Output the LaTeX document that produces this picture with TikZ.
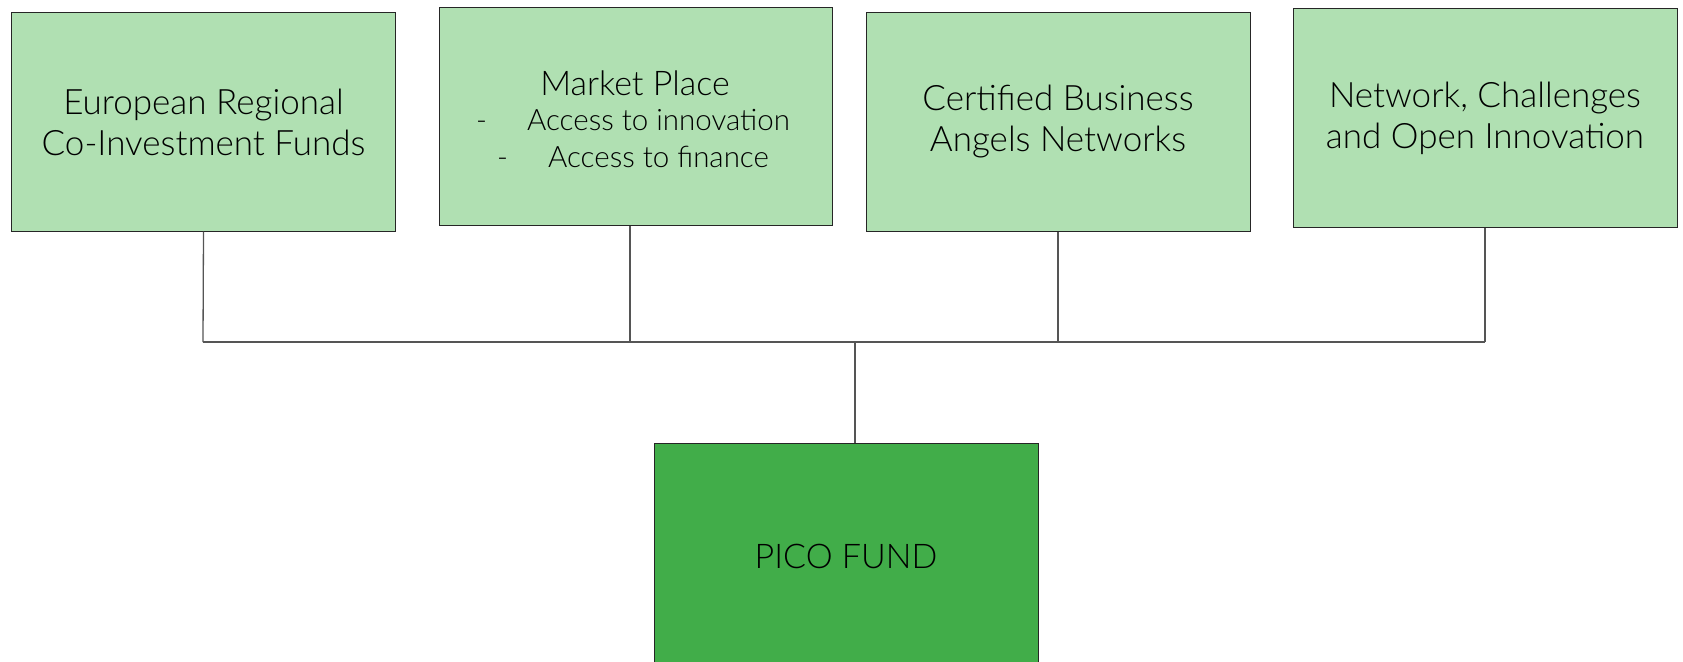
\documentclass[tikz,border=0pt]{standalone}
\usepackage{fontspec}
\setmainfont{Lato Light}
\definecolor{lightgreen}{RGB}{176,224,178}
\definecolor{fundgreen}{RGB}{65,173,73}
\definecolor{linegray}{RGB}{85,85,85}
\tikzset{
  box/.style={rectangle, draw=black!85, line width=1pt, fill=lightgreen, minimum width=384pt, minimum height=218pt, inner sep=0pt, align=center, font=\fontsize{35}{41}\selectfont},
  link/.style={draw=linegray, line width=1.3pt}
}
\begin{document}
\begin{tikzpicture}[x=1pt,y=-1pt]
\useasboundingbox (0,0) rectangle (1683,661);
\node[box] (box1) at (203.5,122){European Regional\\Co-Investment Funds};
\node[box, minimum width=393pt] (box2) at (635.5,116.5){};
\node[font=\fontsize{34}{41}\selectfont] (mp) at (635,83){Market Place};
\node[anchor=west, font=\fontsize{29.5}{35}\selectfont, inner sep=0pt] (mp1) at (476,120){-\hspace{40pt}Access to innovation};
\node[anchor=west, font=\fontsize{29.5}{35}\selectfont, inner sep=0pt] (mp2) at (497,157){-\hspace{40pt}Access to finance};
\node[box] (box3) at (1058,122){Certified Business\\Angels Networks};
\node[box] (box4) at (1485,118){Network, Challenges\\and Open Innovation};
\node[box, fill=fundgreen, minimum height=226pt, font=\fontsize{34}{41}\selectfont] (fund) at (846,556){PICO FUND};
\coordinate (j1) at (203,342);
\coordinate (j2) at (630,342);
\coordinate (j3) at (1058,342);
\coordinate (j4) at (1485,342);
\coordinate (hub) at (855,342);
\draw[link](box1.south) -- (j1);
\draw[link](j2 |- box2.south) -- (j2);
\draw[link](box3.south) -- (j3);
\draw[link](box4.south) -- (j4);
\draw[link](j1) -- (j4);
\draw[link](hub) -- (hub |- fund.north);

\end{tikzpicture}
\end{document}
